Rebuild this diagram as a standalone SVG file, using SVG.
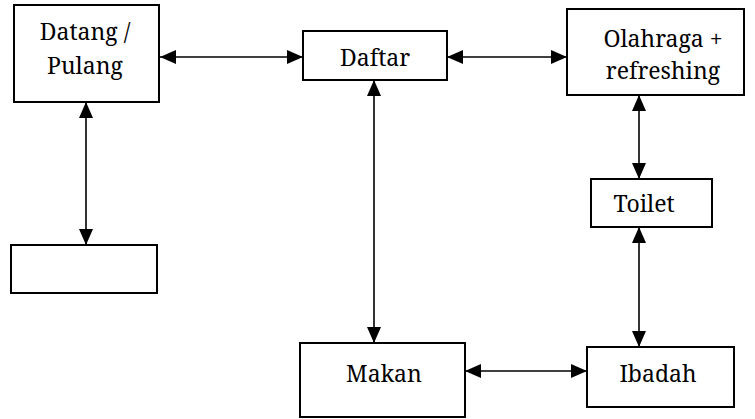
<svg xmlns="http://www.w3.org/2000/svg" width="755" height="419" viewBox="0 0 755 419">
  <style>
    .box { fill: #ffffff; stroke: #000000; stroke-width: 2; }
    .lbl { font-family: "Noto Serif", "DejaVu Serif", serif; font-size: 23px; fill: #000000; text-anchor: middle; }
    .link { stroke: #000000; stroke-width: 1.6; fill: none; marker-start: url(#head); marker-end: url(#head); }
  </style>
  <defs>
    <marker id="head" viewBox="0 0 16 14" refX="16" refY="7" markerWidth="16" markerHeight="14" markerUnits="userSpaceOnUse" orient="auto-start-reverse">
      <path d="M0,0 L16,7 L0,14 Z" fill="#000000"/>
    </marker>
  </defs>
  <rect width="755" height="419" fill="#ffffff"/>

  <g id="connectors">
    <line class="link" x1="160" y1="57" x2="303" y2="57"/>
    <line class="link" x1="447" y1="57" x2="567" y2="57"/>
    <line class="link" x1="86" y1="102" x2="86" y2="245"/>
    <line class="link" x1="374" y1="80" x2="374" y2="343"/>
    <line class="link" x1="639" y1="95" x2="639" y2="179"/>
    <line class="link" x1="639" y1="227" x2="639" y2="347"/>
    <line class="link" x1="465" y1="371" x2="587" y2="371"/>
  </g>

  <g id="datang-pulang">
    <rect class="box" x="14" y="5" width="145" height="97"/>
    <text class="lbl" x="85" y="40">Datang /</text>
    <text class="lbl" x="85" y="74">Pulang</text>
  </g>

  <g id="daftar">
    <rect class="box" x="303" y="31" width="144" height="49"/>
    <text class="lbl" x="375" y="66">Daftar</text>
  </g>

  <g id="olahraga">
    <rect class="box" x="567" y="9" width="177" height="86"/>
    <text class="lbl" x="663" y="47">Olahraga +</text>
    <text class="lbl" x="663" y="79">refreshing</text>
  </g>

  <g id="blank">
    <rect class="box" x="11" y="245" width="146" height="48"/>
  </g>

  <g id="toilet">
    <rect class="box" x="591" y="179" width="121" height="48"/>
    <text class="lbl" x="644" y="212">Toilet</text>
  </g>

  <g id="makan">
    <rect class="box" x="300" y="343" width="165" height="74"/>
    <text class="lbl" x="384" y="382">Makan</text>
  </g>

  <g id="ibadah">
    <rect class="box" x="587" y="347" width="147" height="60"/>
    <text class="lbl" x="658" y="382">Ibadah</text>
  </g>
</svg>
